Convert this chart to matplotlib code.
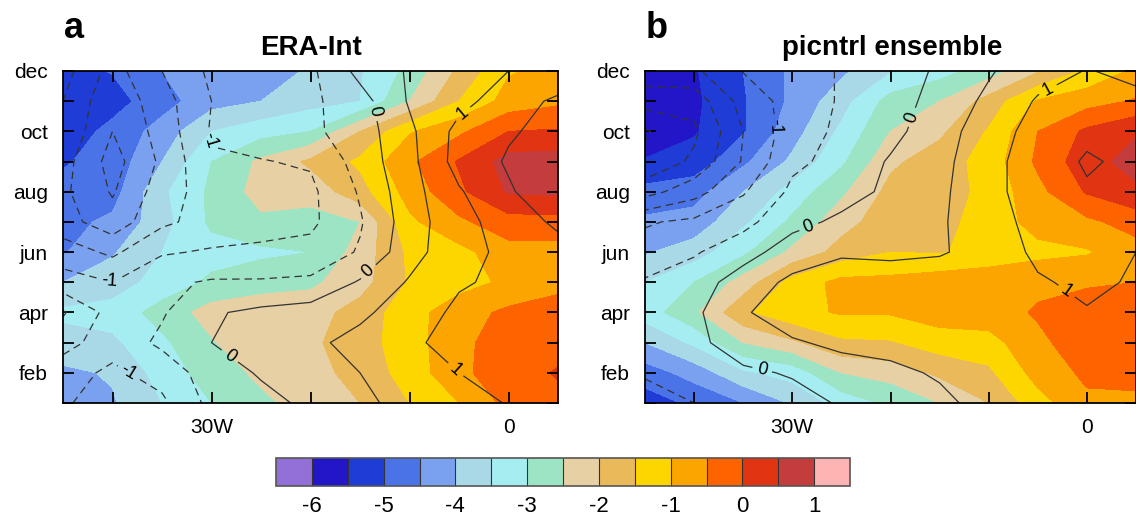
import numpy as np
import matplotlib
matplotlib.use("Agg")
import matplotlib.pyplot as plt
from matplotlib.colors import ListedColormap, BoundaryNorm
from matplotlib.cm import ScalarMappable

plt.rcParams['font.family'] = ['Liberation Sans', 'DejaVu Sans']
plt.rcParams['axes.unicode_minus'] = False

# grid: longitude (deg E) and month (1 = jan ... 12 = dec)
lons = [-45, -40, -35, -30, -25, -20, -15, -10, -5, 0, 5]
months = list(range(1, 13))
month_labels = ['', 'feb', '', 'apr', '', 'jun', '', 'aug', '', 'oct', '', 'dec']
lon_ticks = [-40, -30, -20, -10, 0]
lon_labels = ['', '30W', '', '', '0']

# shaded field, rows jan..dec
era_fill = [
    [-4.3, -4.05, -3.5, -3.0, -2.6, -2.3, -2.0, -1.5, -1.0, -0.35, -0.15],
    [-4.1, -3.95, -3.3, -2.75, -2.4, -2.2, -1.8, -1.3, -0.6, -0.25, 0.05],
    [-3.7, -3.6, -3.1, -2.55, -2.1, -2.1, -1.7, -1.25, -0.6, -0.3, -0.2],
    [-3.4, -3.3, -2.8, -2.3, -2.2, -2.2, -1.8, -1.2, -0.7, -0.4, -0.35],
    [-4.0, -3.75, -3.3, -2.9, -2.7, -2.6, -2.2, -1.45, -1.2, -0.9, -0.6],
    [-4.55, -4.05, -3.5, -3.2, -3.1, -3.0, -2.3, -1.4, -1.15, -0.7, -0.7],
    [-4.65, -4.4, -3.7, -2.9, -2.6, -2.7, -2.5, -1.1, -0.6, -0.2, -0.2],
    [-4.85, -4.7, -3.6, -2.9, -2.3, -2.3, -1.7, -0.8, -0.1, 0.55, 0.6],
    [-5.05, -4.8, -4.0, -3.0, -2.4, -1.9, -1.4, -0.6, 0.05, 0.7, 0.75],
    [-5.3, -4.85, -4.3, -3.5, -3.2, -3.0, -2.0, -1.05, -0.6, 0.0, 0.05],
    [-5.35, -5.2, -4.7, -4.2, -4.0, -3.7, -3.5, -2.5, -1.5, -0.8, -0.6],
    [-5.2, -4.97, -4.5, -4.3, -4.2, -3.95, -3.55, -2.85, -1.9, -1.05, -0.85],
]

# contoured field, rows jan..dec
era_line = [
    [-0.9, -1.4, -1.1, -0.35, -0.15, 0.1, 0.4, 0.65, 0.85, 1.02, 1.1],
    [-0.8, -1.1, -0.8, -0.25, 0.05, 0.3, 0.5, 0.8, 1.0, 1.15, 1.2],
    [-0.3, -0.8, -0.4, 0.0, 0.2, 0.4, 0.65, 0.9, 1.2, 1.3, 1.3],
    [0.05, -0.7, -0.55, -0.05, 0.1, 0.2, 0.4, 0.75, 1.1, 1.2, 1.25],
    [-0.8, -1.0, -0.6, -0.45, -0.45, -0.4, 0.05, 0.55, 0.95, 1.1, 1.2],
    [-1.25, -1.6, -1.05, -0.95, -0.9, -0.85, -0.45, 0.3, 0.85, 1.1, 1.3],
    [-1.8, -2.3, -1.6, -1.3, -1.2, -1.1, -0.55, 0.25, 0.85, 1.2, 1.6],
    [-1.9, -2.55, -1.75, -1.25, -1.15, -1.1, -0.45, 0.3, 0.95, 1.45, 1.8],
    [-1.8, -2.7, -1.9, -1.05, -1.02, -0.95, -0.3, 0.35, 1.2, 1.55, 1.7],
    [-1.6, -2.5, -1.8, -0.95, -0.8, -0.6, -0.25, 0.4, 1.15, 1.45, 1.65],
    [-1.5, -2.4, -1.7, -1.0, -0.75, -0.6, -0.2, 0.55, 0.85, 1.25, 1.6],
    [-1.3, -2.2, -1.5, -0.9, -0.75, -0.6, 0.15, 0.55, 0.8, 1.0, 1.1],
]

pic_fill = [
    [-5.25, -4.9, -4.5, -3.95, -3.3, -2.9, -2.5, -2.0, -1.2, -0.6, -0.6],
    [-4.75, -4.3, -3.6, -3.3, -2.5, -2.3, -1.9, -1.6, -0.8, -0.4, -0.35],
    [-4.0, -3.4, -2.5, -2.1, -1.6, -1.55, -1.25, -1.2, -0.6, -0.25, -0.15],
    [-3.25, -2.6, -1.6, -1.15, -0.95, -0.95, -0.75, -0.7, -0.45, -0.3, -0.1],
    [-3.5, -3.0, -2.3, -1.3, -0.85, -0.85, -0.7, -0.7, -0.6, -0.55, -0.5],
    [-4.05, -3.75, -3.1, -2.4, -1.8, -1.5, -1.55, -1.3, -1.15, -1.05, -0.7],
    [-4.4, -4.3, -3.6, -2.9, -2.2, -1.7, -1.65, -1.3, -0.8, -0.6, -0.3],
    [-4.85, -4.7, -4.0, -3.3, -2.6, -1.85, -1.75, -1.35, -0.65, 0.05, 0.4],
    [-5.45, -5.3, -4.6, -3.9, -3.1, -2.1, -1.75, -1.3, -0.4, 0.3, 0.7],
    [-5.9, -5.55, -5.05, -4.2, -3.4, -2.5, -2.1, -1.45, -0.5, 0.1, 0.45],
    [-5.85, -5.6, -5.05, -4.4, -3.7, -2.8, -2.5, -1.8, -0.95, -0.7, -0.45],
    [-5.7, -5.55, -5.0, -4.4, -4.1, -3.55, -3.2, -2.75, -2.05, -1.4, -0.9],
]

pic_line = [
    [-0.7, -0.5, -0.3, -0.2, 0.05, 0.15, 0.4, 0.65, 0.75, 0.8, 0.8],
    [-0.45, -0.3, -0.1, 0.05, 0.3, 0.4, 0.55, 0.75, 0.8, 0.85, 0.8],
    [-0.3, -0.15, 0.3, 0.45, 0.6, 0.65, 0.75, 0.85, 0.85, 0.9, 0.85],
    [-0.25, -0.1, 0.45, 0.75, 0.85, 0.9, 0.95, 0.95, 0.9, 0.97, 0.9],
    [-0.45, -0.25, 0.25, 0.6, 0.7, 0.75, 0.8, 0.85, 0.95, 1.1, 0.95],
    [-0.8, -0.55, -0.2, 0.25, 0.45, 0.4, 0.45, 0.7, 1.1, 1.2, 1.0],
    [-1.05, -0.9, -0.65, -0.15, 0.1, 0.25, 0.45, 0.75, 1.2, 1.3, 1.2],
    [-2.2, -1.7, -1.05, -0.4, -0.2, 0.1, 0.4, 0.85, 1.25, 1.45, 1.3],
    [-2.9, -2.4, -1.45, -0.6, -0.35, 0.05, 0.35, 0.85, 1.25, 1.55, 1.4],
    [-3.05, -2.6, -1.5, -0.75, -0.4, -0.15, 0.3, 0.75, 1.2, 1.4, 1.3],
    [-2.3, -2.3, -1.3, -0.8, -0.45, -0.25, 0.2, 0.6, 1.05, 1.2, 1.1],
    [-1.7, -1.6, -0.98, -0.8, -0.45, -0.35, 0.1, 0.45, 0.8, 1.02, 0.9],
]

fill_levels = np.arange(-6, 1.01, 0.5)
plain_levels = [-3.0, -2.5, -2.0, -1.5, -0.5, 0.5, 1.5, 2.0]
label_levels = [-1.0, 0.0, 1.0]
colors = ['#9370d8', '#2216c8', '#1f3cd7', '#4a73e8', '#7aa0f0', '#a9d8e6',
          '#a6edf2', '#9de4c4', '#e8d0a5', '#e9b95a', '#fdd600', '#fca400',
          '#fd6400', '#e03412', '#c43c3c', '#ffb4b4']
dash = (0, (6, 4))

W, H = 1136, 517
fig = plt.figure(figsize=(W / 100, H / 100), dpi=100)
ax1 = fig.add_axes([63 / W, 1 - 403 / H, 495 / W, 332 / H])
ax2 = fig.add_axes([645 / W, 1 - 403 / H, 491 / W, 332 / H])

panels = [
    (ax1, era_fill, era_line, 'a', 'ERA-Int', 63 + 495 / 2,
     [(-30.2, 9.7), (-40.3, 5.1), (-37.8, 2.3), (-13, 10.7), (-14, 5.3),
      (-28.5, 2.4), (-4.4, 10.5), (-4.8, 2.3)]),
    (ax2, pic_fill, pic_line, 'b', 'picntrl ensemble', 645 + 494 / 2,
     [(-33, 10.1), (-28.4, 6.9), (-18.1, 10.5), (-33, 2.2), (-3.5, 11.1),
      (-2.3, 4.6)]),
]

for ax, fld, lin, letter, title, tx, lab_pos in panels:
    X, Y = np.meshgrid(lons, months)
    ax.contourf(X, Y, np.array(fld), levels=fill_levels, colors=colors, extend='both')
    ax.contour(X, Y, np.array(lin), levels=plain_levels, colors='#333333',
               linewidths=0.9,
               linestyles=[dash if v < 0 else 'solid' for v in plain_levels])
    cs = ax.contour(X, Y, np.array(lin), levels=label_levels, colors='#333333',
                    linewidths=0.9,
                    linestyles=[dash if v < 0 else 'solid' for v in label_levels])
    ax.clabel(cs, manual=lab_pos, inline=True, fmt='%g', fontsize=13,
              colors='black')
    ax.set_xlim(-45, 5)
    ax.set_ylim(1, 12)
    ax.set_xticks(lon_ticks)
    ax.set_xticklabels(lon_labels)
    ax.set_yticks(months)
    ax.set_yticklabels(month_labels)
    ax.tick_params(direction='in', top=True, right=True, length=8, width=1.3,
                   labelsize=15)
    ax.tick_params(axis='x', pad=11)
    ax.tick_params(axis='y', pad=11)
    for sp in ax.spines.values():
        sp.set_linewidth(1.3)
    pos = ax.get_position()
    fig.text(pos.x0 + 0.001, 1 - 38 / H, letter, fontsize=26, fontweight='bold',
             ha='left', va='baseline')
    fig.text(tx / W, 1 - 55 / H, title, fontsize=20, fontweight='bold',
             ha='center', va='baseline')

# colour bar
cax = fig.add_axes([276 / W, 1 - 486 / H, 574 / W, 28 / H])
bounds = np.arange(-6.5, 1.51, 0.5)
sm = ScalarMappable(norm=BoundaryNorm(bounds, len(colors)), cmap=ListedColormap(colors))
cb = fig.colorbar(sm, cax=cax, orientation='horizontal', ticks=range(-6, 2),
                  drawedges=True)
cb.outline.set_edgecolor('#555555')
cb.outline.set_linewidth(1.2)
cb.dividers.set_color('#333333')
cb.dividers.set_linewidth(0.8)
cax.minorticks_off()
cax.tick_params(which='both', length=0, labelsize=16, pad=7)

fig.savefig('out.png', dpi=100)
